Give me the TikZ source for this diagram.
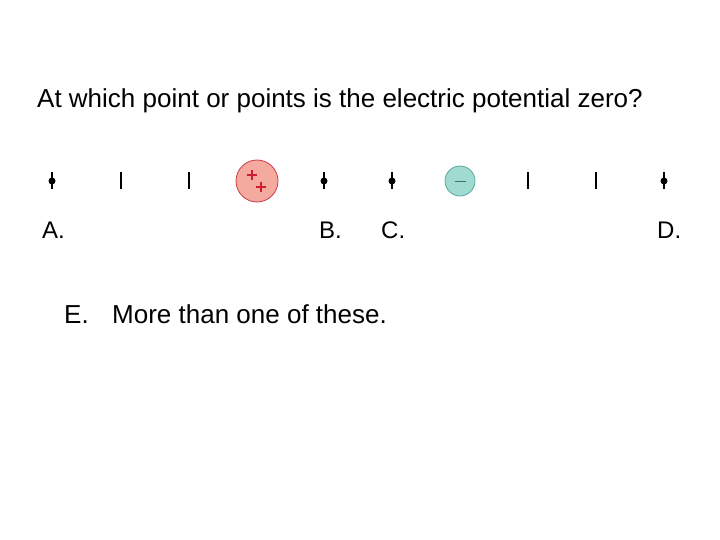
\documentclass[tikz,border=0pt]{standalone}
\usepackage{fontspec}
\setmainfont{Liberation Sans}
\usetikzlibrary{positioning}
\definecolor{posfill}{RGB}{245,170,160}
\definecolor{posline}{RGB}{200,60,70}
\definecolor{posmark}{RGB}{205,30,45}
\definecolor{negfill}{RGB}{160,218,208}
\definecolor{negline}{RGB}{85,170,160}
\definecolor{negmark}{RGB}{50,120,110}

\begin{document}
\begin{tikzpicture}[x=1pt, y=-1pt,
		txt/.style={anchor=base west, inner sep=0pt, font=\fontsize{26}{30}\selectfont},
		lbl/.style={anchor=base west, inner sep=0pt, font=\fontsize{24}{28}\selectfont},
		dotpt/.style={circle, fill=black, inner sep=0pt, minimum size=7pt},
		tickmark/.style={line width=1.4pt},
		poscharge/.style={circle, draw=posline, fill=posfill, line width=0.8pt, minimum size=42pt, inner sep=0pt},
		negcharge/.style={circle, draw=negline, fill=negfill, line width=0.8pt, minimum size=30pt, inner sep=0pt}
	]
	\useasboundingbox (0,0) rectangle (720,540);

	% Question
	\node[txt] (question) at (37,108) {At which point or points is the electric potential zero?};

	% Points on the line
	\foreach \i/\x in {1/52,2/121,3/189,4/257,5/324,6/392,7/460,8/528,9/596,10/664}
		\coordinate (p\i) at (\x,181);

	% Ticks
	\foreach \i in {2,3,8,9}
		\draw[tickmark] ([yshift=8.5pt]p\i) -- ([yshift=-8.5pt]p\i);

	% Test points
	\foreach \i in {1,5,6,10} {
		\draw[tickmark] ([yshift=8.5pt]p\i) -- ([yshift=-8.5pt]p\i);
		\node[dotpt] (d\i) at (p\i) {};
	}

	% Charges
	\node[poscharge] (qpos) at (p4) {};
	\draw[posmark, line width=1.1pt] ([shift={(-10,-6)}]qpos.center) -- ([shift={(0,-6)}]qpos.center)
		([shift={(-5,-11)}]qpos.center) -- ([shift={(-5,-1)}]qpos.center);
	\draw[posmark, line width=1.1pt] ([shift={(-1,6)}]qpos.center) -- ([shift={(9,6)}]qpos.center)
		([shift={(4,1)}]qpos.center) -- ([shift={(4,11)}]qpos.center);
	\node[negcharge] (qneg) at (p7) {};
	\draw[negmark, line width=0.9pt] ([xshift=-5.5pt]qneg.center) -- ([xshift=5.5pt]qneg.center);

	% Answers
	\node[lbl] (ansA) at (42,239) {A.};
	\node[lbl] (ansB) at (319,239) {B.};
	\node[lbl] (ansC) at (381,239) {C.};
	\node[lbl] (ansD) at (657,239) {D.};
	\node[txt] (ansE) at (64,323) {E.};
	\node[txt] (more) at (112,323) {More than one of these.};
\end{tikzpicture}
\end{document}
